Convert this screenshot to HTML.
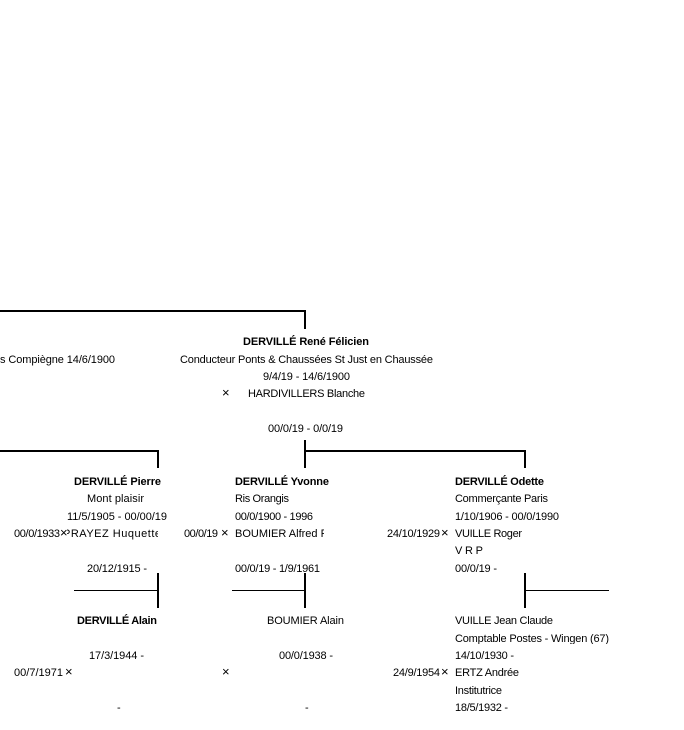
<!DOCTYPE html>
<html>
<head>
<meta charset="utf-8">
<style>
  html, body { margin:0; padding:0; background:#fff; }
  body { width:684px; height:730px; overflow:hidden; position:relative; }
  svg { position:absolute; left:0; top:0; }
  text { font-family: "Liberation Sans", "DejaVu Sans", sans-serif; font-size:11px; fill:#000; }
  .b { font-weight:bold; }
  .x { font-size:13px; }
</style>
</head>
<body>
<svg width="684" height="730" viewBox="0 0 684 730" xmlns="http://www.w3.org/2000/svg">
  <defs>
    <clipPath id="c1"><rect x="60" y="520" width="98" height="20"/></clipPath>
    <clipPath id="c2"><rect x="230" y="520" width="94" height="20"/></clipPath>
    <clipPath id="c3"><rect x="450" y="628" width="170" height="16"/></clipPath>
  </defs>

  <!-- connector lines -->
  <rect x="0" y="310" width="306" height="2" fill="#000"/>
  <rect x="304" y="310" width="2" height="19" fill="#000"/>

  <rect x="304" y="440" width="2" height="28" fill="#000"/>
  <rect x="0" y="450" width="159" height="2" fill="#000"/>
  <rect x="157" y="450" width="2" height="18" fill="#000"/>
  <rect x="304" y="450" width="222" height="2" fill="#000"/>
  <rect x="524" y="450" width="2" height="18" fill="#000"/>

  <rect x="157" y="573" width="2" height="35" fill="#000"/>
  <rect x="74" y="590" width="84" height="1" fill="#000"/>
  <rect x="304" y="573" width="2" height="35" fill="#000"/>
  <rect x="232" y="590" width="73" height="1" fill="#000"/>
  <rect x="524" y="573" width="2" height="35" fill="#000"/>
  <rect x="525" y="590" width="84" height="1" fill="#000"/>

  <!-- top section -->
  <text x="0" y="363" textLength="115" lengthAdjust="spacing">s Compiègne 14/6/1900</text>
  <text class="b" x="243" y="345" textLength="126" lengthAdjust="spacing">DERVILLÉ René Félicien</text>
  <text x="180" y="363" textLength="253" lengthAdjust="spacing">Conducteur Ponts &amp; Chaussées St Just en Chaussée</text>
  <text x="263" y="380" textLength="87" lengthAdjust="spacing">9/4/19 - 14/6/1900</text>
  <text class="x" x="222" y="397">×</text>
  <text x="248" y="397" textLength="117" lengthAdjust="spacing">HARDIVILLERS Blanche</text>
  <text x="268" y="432" textLength="75" lengthAdjust="spacing">00/0/19 - 0/0/19</text>

  <!-- Pierre -->
  <text class="b" x="74" y="485" textLength="87" lengthAdjust="spacing">DERVILLÉ Pierre</text>
  <text x="87" y="502" textLength="57" lengthAdjust="spacing">Mont plaisir</text>
  <text x="67" y="520" textLength="100" lengthAdjust="spacing">11/5/1905 - 00/00/19</text>
  <text x="14" y="537" textLength="46" lengthAdjust="spacing">00/0/1933</text>
  <g clip-path="url(#c1)">
    <text x="63" y="537" textLength="98" lengthAdjust="spacing">PRAYEZ Huquette</text>
  </g>
  <rect x="60" y="528" width="7" height="9" fill="#fff"/>
  <text class="x" x="60" y="537">×</text>
  <text x="87" y="572" textLength="60" lengthAdjust="spacing">20/12/1915 -</text>

  <!-- Yvonne -->
  <text class="b" x="235" y="485" textLength="94" lengthAdjust="spacing">DERVILLÉ Yvonne</text>
  <text x="235" y="502" textLength="54" lengthAdjust="spacing">Ris Orangis</text>
  <text x="235" y="520" textLength="78" lengthAdjust="spacing">00/0/1900 - 1996</text>
  <text x="184" y="537" textLength="34" lengthAdjust="spacing">00/0/19</text>
  <text class="x" x="221" y="537">×</text>
  <g clip-path="url(#c2)">
    <text x="235" y="537">BOUMIER Alfred François</text>
  </g>
  <text x="235" y="572" textLength="85" lengthAdjust="spacing">00/0/19 - 1/9/1961</text>

  <!-- Odette -->
  <text class="b" x="455" y="485" textLength="89" lengthAdjust="spacing">DERVILLÉ Odette</text>
  <text x="455" y="502" textLength="93" lengthAdjust="spacing">Commerçante Paris</text>
  <text x="455" y="520" textLength="104" lengthAdjust="spacing">1/10/1906 - 00/0/1990</text>
  <text x="387" y="537" textLength="53" lengthAdjust="spacing">24/10/1929</text>
  <text class="x" x="441" y="537">×</text>
  <text x="455" y="537" textLength="67" lengthAdjust="spacing">VUILLE Roger</text>
  <text x="455" y="554" textLength="28" lengthAdjust="spacing">V R P</text>
  <text x="455" y="572" textLength="42" lengthAdjust="spacing">00/0/19 -</text>

  <!-- Alain D -->
  <text class="b" x="77" y="624" textLength="80" lengthAdjust="spacing">DERVILLÉ Alain</text>
  <text x="89" y="659" textLength="55" lengthAdjust="spacing">17/3/1944 -</text>
  <text x="14" y="676" textLength="49" lengthAdjust="spacing">00/7/1971</text>
  <text class="x" x="65" y="676">×</text>
  <text x="117" y="711">-</text>

  <!-- Alain B -->
  <text x="267" y="624" textLength="77" lengthAdjust="spacing">BOUMIER Alain</text>
  <text x="279" y="659" textLength="54" lengthAdjust="spacing">00/0/1938 -</text>
  <text class="x" x="222" y="676">×</text>
  <text x="305" y="711">-</text>

  <!-- Jean Claude -->
  <text x="455" y="624" textLength="98" lengthAdjust="spacing">VUILLE Jean Claude</text>
  <g clip-path="url(#c3)">
    <text x="455" y="642" textLength="154" lengthAdjust="spacing">Comptable Postes - Wingen (67)</text>
  </g>
  <text x="455" y="659" textLength="59" lengthAdjust="spacing">14/10/1930 -</text>
  <text x="393" y="676" textLength="47" lengthAdjust="spacing">24/9/1954</text>
  <text class="x" x="441" y="676">×</text>
  <text x="455" y="676" textLength="64" lengthAdjust="spacing">ERTZ Andrée</text>
  <text x="455" y="694" textLength="47" lengthAdjust="spacing">Institutrice</text>
  <text x="455" y="711" textLength="53" lengthAdjust="spacing">18/5/1932 -</text>
</svg>
</body>
</html>
